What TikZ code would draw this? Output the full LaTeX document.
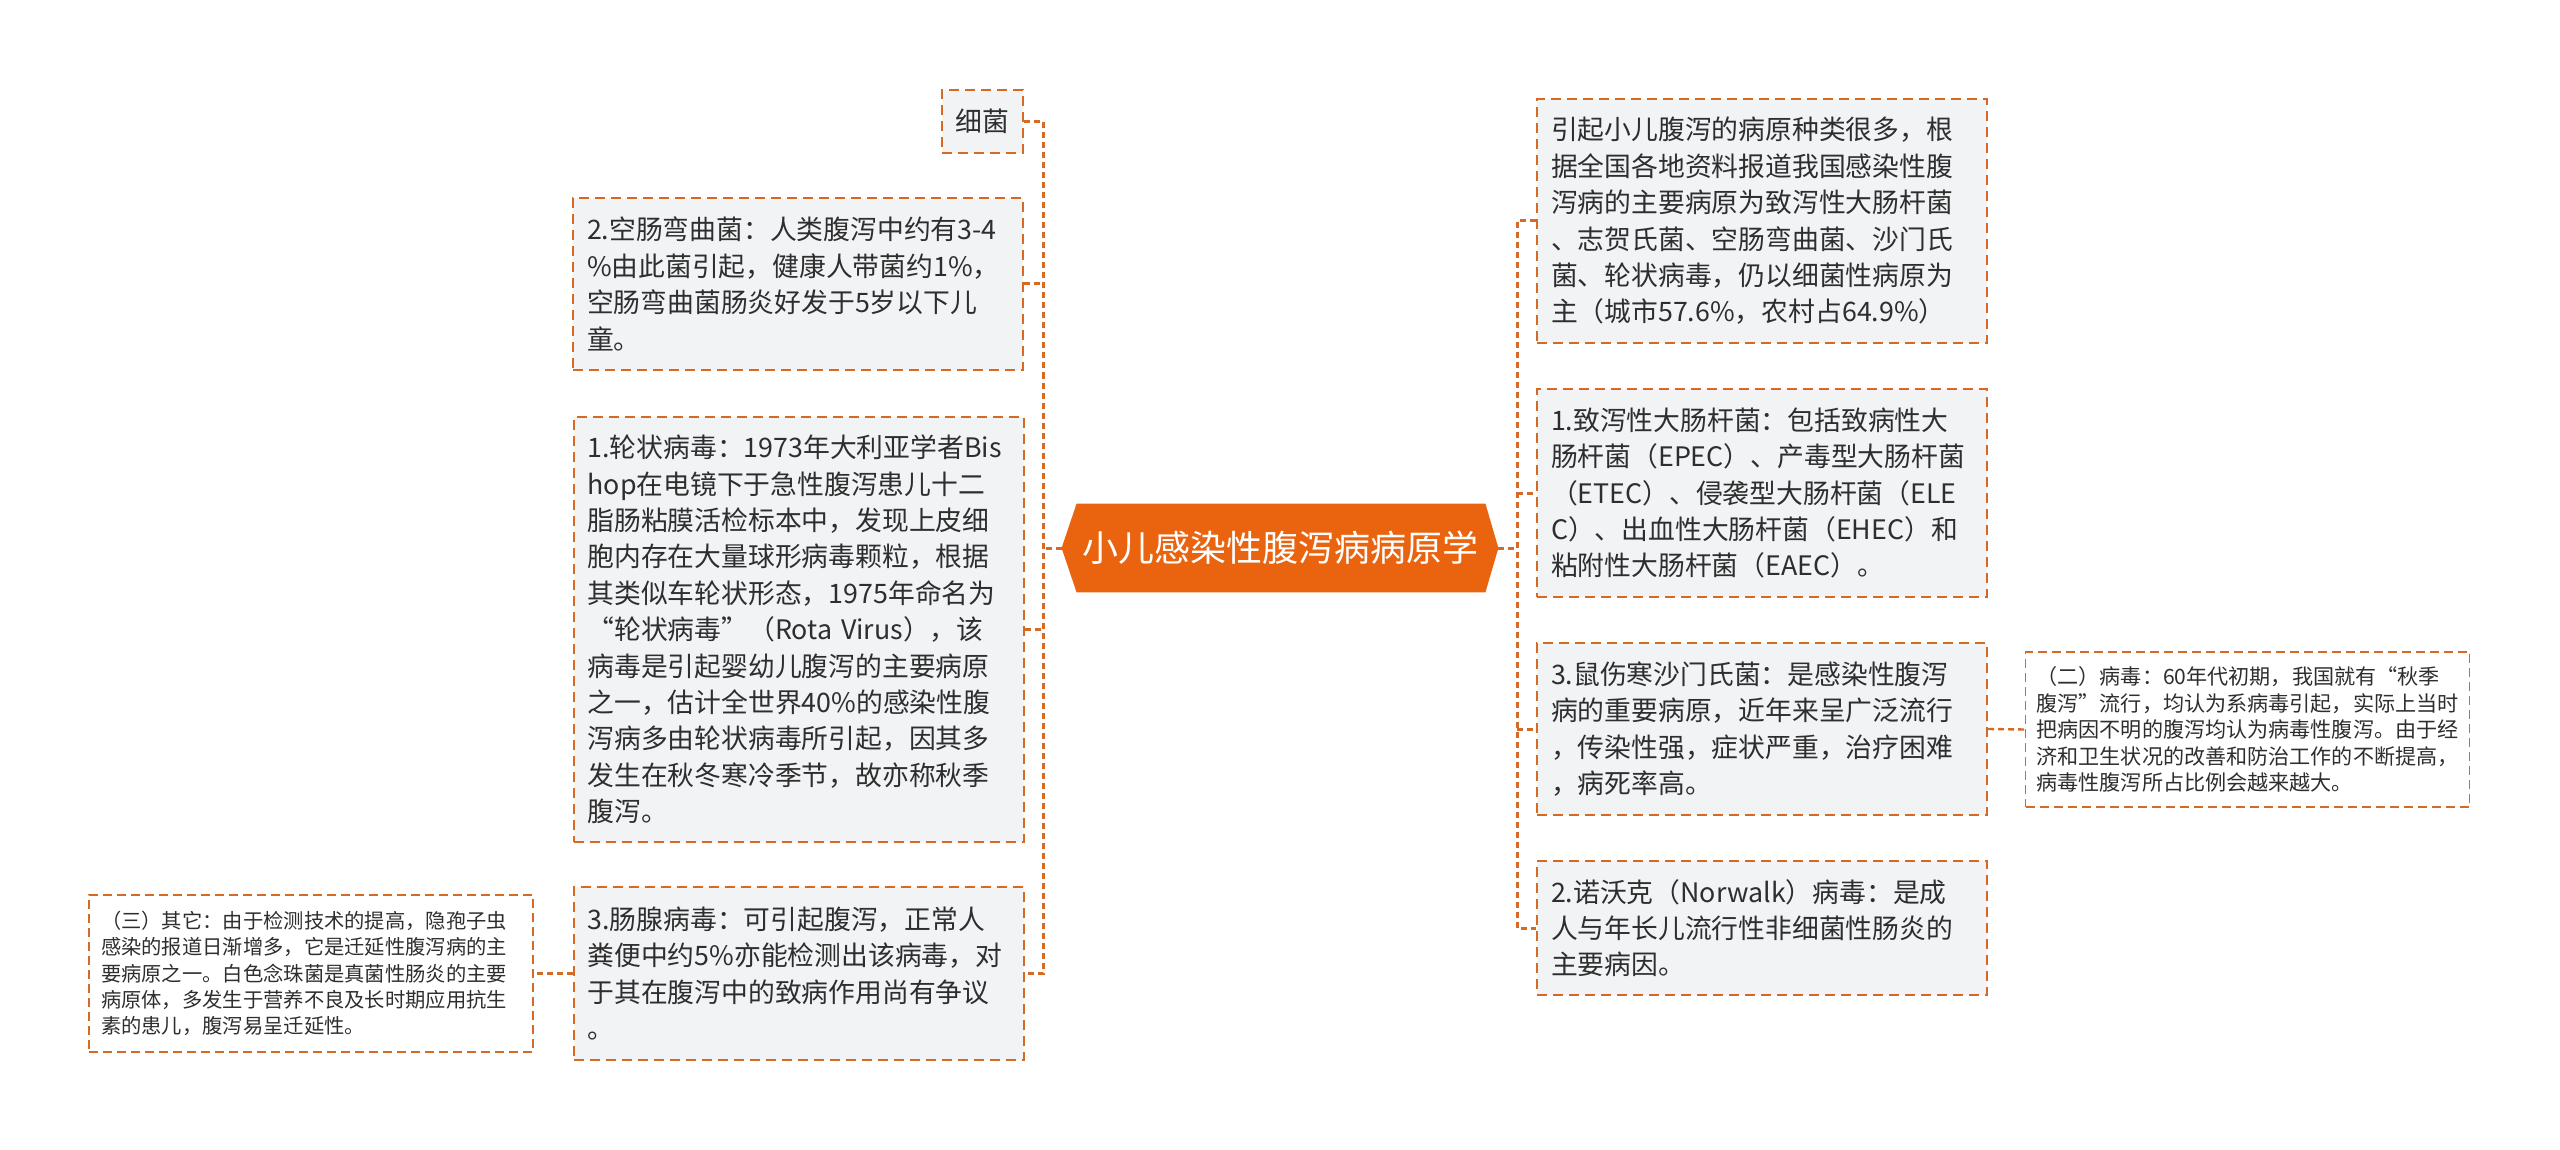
\documentclass[tikz,border=0pt]{standalone}
\usepackage{fontspec}
\setmainfont{Noto Sans CJK SC}
\usetikzlibrary{backgrounds}
\definecolor{corange}{HTML}{EA6410}
\definecolor{cborder}{HTML}{D46A25}
\definecolor{cfill}{HTML}{F1F3F5}
\definecolor{ctext}{HTML}{2E2E2E}
\newcommand\bigtxt{\fontsize{13.4pt}{18.2pt}\selectfont}
\newcommand\smalltxt{\fontsize{10.15pt}{13.1pt}\selectfont}
\newcommand\smalltxtb{\fontsize{10.55pt}{13.3pt}\selectfont}
\newcommand\toptxt{\fontsize{18pt}{22pt}\selectfont}
\hbadness=10000 \hfuzz=200pt
\begin{document}
\begin{tikzpicture}[x=0.5pt,y=-0.5pt,
  mainbox/.style={draw=cborder, line width=1pt, dash pattern=on 5pt off 3pt,
    fill=cfill, text=ctext, align=left, inner xsep=7pt, inner ysep=0pt,
    font=\bigtxt, text width=211pt, anchor=center},
  subbox/.style={draw=cborder, line width=0.8pt, dash pattern=on 4.5pt off 2.5pt,
    fill=white, text=ctext, align=left, inner xsep=6pt, inner ysep=0pt,
    font=\smalltxt, text width=210pt, anchor=center},
  conn/.style={draw=cborder, line width=1.5pt, dash pattern=on 3pt off 2pt},
  subconn/.style={draw=cborder, line width=1.2pt, dash pattern=on 3pt off 2pt}]

\begin{scope}[on background layer]
\fill[white] (0,0) rectangle (2560,1150);
\end{scope}
\useasboundingbox (0,0) rectangle (2560,1150);

% central node
\node[text=white, font=\toptxt, minimum width=218pt, minimum height=44pt, inner sep=0pt] (c) at (1280,548) {小儿感染性腹泻病病原学};
\begin{scope}[on background layer]
\fill[corange] (c.west) -- ([xshift=7.5pt]c.north west) -- ([xshift=-6.5pt]c.north east) -- (c.east)
  -- ([xshift=-6.5pt]c.south east) -- ([xshift=7.5pt]c.south west) -- cycle;
\end{scope}

% left side
\node[mainbox, text width=, align=center, inner sep=0pt, minimum width=40.5pt, minimum height=31.5pt] (xijun) at (982.5,121.5) {细菌};
\node[mainbox, minimum height=86pt] (l2) at (798,284) {2.空肠弯曲菌：人类腹泻中约有3-4\\\%由此菌引起，健康人带菌约1\%，\\空肠弯曲菌肠炎好发于5岁以下儿\\童。};
\node[mainbox, minimum height=212.5pt] (l1) at (798.5,629.5) {1.轮状病毒：1973年大利亚学者Bis\\hop在电镜下于急性腹泻患儿十二\\脂肠粘膜活检标本中，发现上皮细\\胞内存在大量球形病毒颗粒，根据\\其类似车轮状形态，1975年命名为\\“轮状病毒”（Rota~Virus），该\\病毒是引起婴幼儿腹泻的主要病原\\之一，估计全世界40\%的感染性腹\\泻病多由轮状病毒所引起，因其多\\发生在秋冬寒冷季节，故亦称秋季\\腹泻。};
\node[mainbox, minimum height=86.5pt] (l3) at (798.5,973.5) {3.肠腺病毒：可引起腹泻，正常人\\粪便中约5\%亦能检测出该病毒，对\\于其在腹泻中的致病作用尚有争议\\。};
\node[subbox, minimum height=78.5pt] (san) at (311,973.5) {（三）其它：由于检测技术的提高，隐孢子虫\\感染的报道日渐增多，它是迁延性腹泻病的主\\要病原之一。白色念珠菌是真菌性肠炎的主要\\病原体，多发生于营养不良及长时期应用抗生\\素的患儿，腹泻易呈迁延性。};

% right side
\node[mainbox, minimum height=122pt] (r0) at (1762,221) {引起小儿腹泻的病原种类很多，根\\据全国各地资料报道我国感染性腹\\泻病的主要病原为致泻性大肠杆菌\\、志贺氏菌、空肠弯曲菌、沙门氏\\菌、轮状病毒，仍以细菌性病原为\\主（城市57.6\%，农村占64.9\%）};
\node[mainbox, minimum height=104pt] (r1) at (1762,493) {1.致泻性大肠杆菌：包括致病性大\\肠杆菌（EPEC）、产毒型大肠杆菌\\（ETEC）、侵袭型大肠杆菌（ELE\\C）、出血性大肠杆菌（EHEC）和\\粘附性大肠杆菌（EAEC）。};
\node[mainbox, minimum height=86pt] (r2) at (1762,729) {3.鼠伤寒沙门氏菌：是感染性腹泻\\病的重要病原，近年来呈广泛流行\\，传染性强，症状严重，治疗困难\\，病死率高。};
\node[subbox, font=\smalltxtb, minimum height=77.5pt, inner xsep=5.5pt, text width=211pt] (er) at (2247.5,729.5) {（二）病毒：60年代初期，我国就有“秋季\\腹泻”流行，均认为系病毒引起，实际上当时\\把病因不明的腹泻均认为病毒性腹泻。由于经\\济和卫生状况的改善和防治工作的不断提高，\\病毒性腹泻所占比例会越来越大。};
\node[mainbox, minimum height=67pt] (r3) at (1762,928) {2.诺沃克（Norwalk）病毒：是成\\人与年长儿流行性非细菌性肠炎的\\主要病因。};

% trunks
\coordinate (lt) at (1043,548);
\coordinate (rt) at (1517,548);

\draw[conn] (xijun.east) -- (xijun.east -| lt) -- (l3.east -| lt) -- (l3.east);
\draw[conn] (l2.east) -- (l2.east -| lt);
\draw[conn] (l1.east) -- (l1.east -| lt);
\draw[conn] (c.west) -- (lt);
\draw[subconn] (l3.west) -- (san.east);

\draw[conn] (r0.west) -- (r0.west -| rt) -- (r3.west -| rt) -- (r3.west);
\draw[conn] (r1.west -| rt) -- (r1.west);
\draw[conn] (r2.west -| rt) -- (r2.west);
\draw[conn] (c.east) -- (rt);
\draw[subconn] (r2.east) -- (er.west);
\end{tikzpicture}
\end{document}
